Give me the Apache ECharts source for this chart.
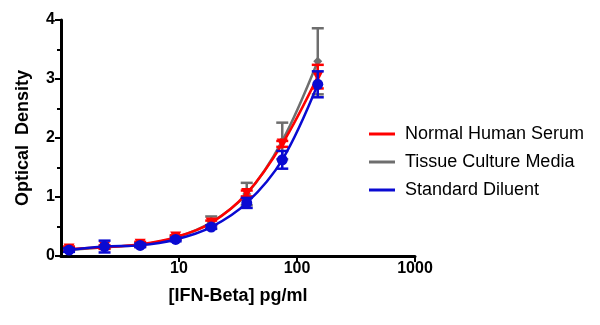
<!DOCTYPE html>
<html>
<head>
<meta charset="utf-8">
<script src="https://cdn.jsdelivr.net/npm/echarts@6/dist/echarts.min.js"></script>
<style>html,body{margin:0;padding:0;background:#fff;}#c{width:600px;height:325px;}</style>
</head>
<body>
<div id="c"></div>
<script>
const conc = [1.17, 2.34, 4.69, 9.375, 18.75, 37.5, 75, 150];
const seriesNames = ['Normal Human Serum', 'Tissue Culture Media', 'Standard Diluent'];
const nhsMean = [0.12, 0.15, 0.20, 0.32, 0.56, 1.06, 1.90, 3.04];
const nhsErr  = [0.04, 0.03, 0.04, 0.03, 0.04, 0.05, 0.05, 0.20];
const tcmMean = [0.10, 0.15, 0.19, 0.31, 0.57, 1.05, 1.95, 3.30];
const tcmErr  = [0.02, 0.02, 0.02, 0.03, 0.10, 0.19, 0.31, 0.56];
const sdMean  = [0.10, 0.16, 0.18, 0.28, 0.49, 0.90, 1.63, 2.91];
const sdErr   = [0.03, 0.10, 0.03, 0.03, 0.03, 0.085, 0.15, 0.22];
const xTicks = [10, 100, 1000];
const yTicks = [0, 1, 2, 3, 4];

const colors = { nhs: '#ff0000', tcm: '#6e6e6e', sd: '#0a0ad2' };

function pts(mean) { return conc.map((c, i) => [c, mean[i]]); }
function errs(mean, err) { return conc.map((c, i) => [c, mean[i] - err[i], mean[i] + err[i]]); }

function errSeries(name, mean, err, color, z) {
  return {
    name: name,
    type: 'custom',
    z: z,
    silent: true,
    data: errs(mean, err),
    renderItem: function (params, api) {
      const x = api.value(0), lo = api.value(1), hi = api.value(2);
      const pHi = api.coord([x, hi]);
      const pLo = api.coord([x, lo]);
      const w = 6;
      const st = { stroke: color, lineWidth: 2.5 };
      return {
        type: 'group',
        children: [
          { type: 'line', shape: { x1: pHi[0], y1: pHi[1], x2: pLo[0], y2: pLo[1] }, style: st },
          { type: 'line', shape: { x1: pHi[0] - w, y1: pHi[1], x2: pHi[0] + w, y2: pHi[1] }, style: st },
          { type: 'line', shape: { x1: pLo[0] - w, y1: pLo[1], x2: pLo[0] + w, y2: pLo[1] }, style: st }
        ]
      };
    }
  };
}

function lineSeries(name, mean, color, symbol, size, rotate, z) {
  return {
    name: name,
    type: 'line',
    z: z,
    data: pts(mean),
    smooth: 0.35,
    symbol: symbol,
    symbolSize: size,
    symbolRotate: rotate,
    showAllSymbol: true,
    lineStyle: { color: color, width: 2.5 },
    itemStyle: { color: color },
    emphasis: { disabled: true }
  };
}

const chart = echarts.init(document.getElementById('c'), null, { renderer: 'canvas' });
chart.setOption({
  animation: false,
  backgroundColor: '#fff',
  grid: { left: 61, right: 185, top: 20, bottom: 69, containLabel: false },
  legend: {
    orient: 'vertical',
    left: 364,
    top: 120,
    itemWidth: 26,
    itemHeight: 3,
    itemGap: 10,
    icon: 'rect',
    data: seriesNames.map((n, i) => ({ name: n, itemStyle: { color: [colors.nhs, colors.tcm, colors.sd][i] } })),
    textStyle: { fontFamily: 'Liberation Sans, Arial, sans-serif', fontSize: 18, color: '#000', padding: [0, 0, 0, 5] }
  },
  xAxis: {
    type: 'log',
    logBase: 10,
    min: 1,
    max: 1000,
    name: '[IFN-Beta] pg/ml',
    nameLocation: 'middle',
    nameGap: 31,
    nameTextStyle: { fontFamily: 'Liberation Sans, Arial, sans-serif', fontSize: 18, fontWeight: 'bold', color: '#000' },
    axisLine: { lineStyle: { color: '#000', width: 3 } },
    axisTick: { show: true, inside: false, length: 6, lineStyle: { color: '#000', width: 2 } },
    axisLabel: {
      showMinLabel: false,
      margin: 5,
      fontFamily: 'Liberation Sans, Arial, sans-serif', fontSize: 16, fontWeight: 'bold', color: '#000',
      formatter: function (v) { return xTicks.indexOf(Math.round(v)) >= 0 ? String(Math.round(v)) : ''; }
    },
    splitLine: { show: false },
    minorTick: { show: false }
  },
  yAxis: {
    type: 'value',
    min: yTicks[0],
    max: yTicks[yTicks.length - 1],
    interval: 1,
    name: 'Optical  Density',
    nameLocation: 'middle',
    nameGap: 29,
    nameTextStyle: { fontFamily: 'Liberation Sans, Arial, sans-serif', fontSize: 18, fontWeight: 'bold', color: '#000' },
    axisLine: { show: true, lineStyle: { color: '#000', width: 3 } },
    axisTick: { show: true, inside: false, length: 6, lineStyle: { color: '#000', width: 2 } },
    minorTick: { show: true, splitNumber: 2, length: 4, lineStyle: { color: '#000', width: 2 } },
    axisLabel: { margin: 6, fontFamily: 'Liberation Sans, Arial, sans-serif', fontSize: 16, fontWeight: 'bold', color: '#000' },
    splitLine: { show: false }
  },
  series: [
    errSeries(seriesNames[1], tcmMean, tcmErr, colors.tcm, 1),
    lineSeries(seriesNames[1], tcmMean, colors.tcm, 'diamond', 9, 0, 2),
    errSeries(seriesNames[0], nhsMean, nhsErr, colors.nhs, 3),
    lineSeries(seriesNames[0], nhsMean, colors.nhs, 'triangle', 11, 180, 4),
    errSeries(seriesNames[2], sdMean, sdErr, colors.sd, 5),
    lineSeries(seriesNames[2], sdMean, colors.sd, 'circle', 11, 0, 6)
  ]
});
</script>
</body>
</html>
